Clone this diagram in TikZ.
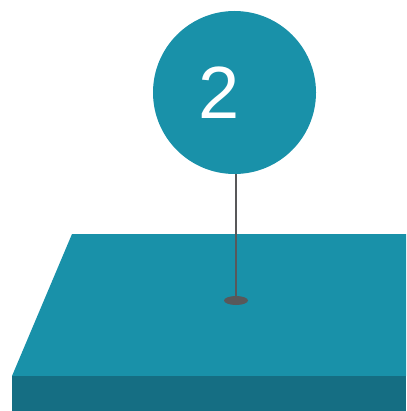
\documentclass[tikz,border=0pt]{standalone}
\usepackage{fontspec}
\usetikzlibrary{shapes.geometric}
\setmainfont{Liberation Sans}
\definecolor{tealtop}{HTML}{1991A9}
\definecolor{tealfront}{HTML}{156E83}
\definecolor{pingray}{HTML}{58585A}
\begin{document}
\begin{tikzpicture}[x=1pt,y=-1pt,
  topface/.style={fill=tealtop,draw=none},
  frontface/.style={fill=tealfront,draw=none},
  bubble/.style={circle,fill=tealtop,minimum size=163pt,inner sep=0pt},
  pinline/.style={draw=pingray,line width=1.5pt}]
\useasboundingbox (0,0) rectangle (406,411);
\fill[topface] (72,234) -- (406,234) -- (406,376) -- (12,376) -- cycle;
\fill[frontface] (12,376) rectangle (406,411);
\node[bubble] (b) at (234.5,92.5) {};
\node[text=white,font=\fontsize{74}{74}\selectfont] (n) at (219.5,92.5) {2};
\node[ellipse,fill=pingray,minimum width=24pt,minimum height=9pt,inner sep=0pt] (p) at (236,300.5) {};
\draw[pinline] (b.south -| p.center) -- (p.center);
\end{tikzpicture}
\end{document}
